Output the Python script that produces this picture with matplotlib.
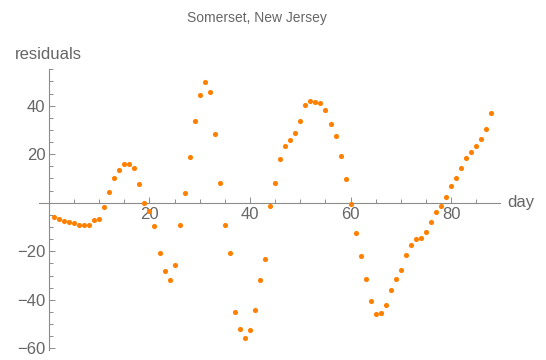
import numpy as np
import matplotlib
matplotlib.use("Agg")
import matplotlib.pyplot as plt

# residuals, one per day
days = np.arange(1, 89)
residuals = [
    -5.8, -6.9, -7.4, -8.0, -8.5, -9.3, -9.3, -9.3, -7.1, -6.7,
    -1.6, 4.5, 10.3, 13.5, 15.9, 15.8, 14.4, 7.6, -0.3, -3.3,
    -9.6, -20.6, -28.3, -31.8, -25.6, -9.1, 4.1, 18.8, 33.8, 44.4,
    49.8, 45.5, 28.5, 8.2, -9.1, -20.6, -45.2, -52.1, -55.7, -52.6,
    -44.4, -31.9, -23.2, -1.2, 8.2, 18.0, 23.4, 25.8, 28.9, 33.5,
    40.1, 42.1, 41.5, 41.2, 38.2, 32.3, 27.6, 19.2, 9.6, -0.5,
    -12.6, -22.1, -31.3, -40.4, -45.9, -45.6, -42.1, -36.0, -31.6, -27.9,
    -21.6, -17.5, -15.0, -14.4, -12.2, -8.0, -3.8, -1.2, 2.5, 6.7,
    10.4, 14.3, 18.4, 20.9, 23.2, 26.1, 30.2, 37.1,
]
x_major = [20, 40, 60, 80]
y_major = [-60, -40, -20, 20, 40]

TEXT = "#666666"
AXIS = "#8c8c8c"
ORANGE = "#ff8000"

plt.rcParams["font.family"] = ["Liberation Sans", "DejaVu Sans"]

fig = plt.figure(figsize=(5.46, 3.6), dpi=100)
ax = fig.add_axes([0.072, 0.0278, 0.8438, 0.7797])

ax.plot(days, residuals, "o", color=ORANGE, markersize=3.7,
        markeredgewidth=0, clip_on=False, zorder=3)

ax.set_xlim(-1.9, 89.7)
ax.set_ylim(-60.7, 55.0)

# axes crossing at the origin, Mathematica style
for side in ("top", "right"):
    ax.spines[side].set_visible(False)
ax.spines["left"].set_position(("data", 0))
ax.spines["bottom"].set_position(("data", 0))
for side in ("left", "bottom"):
    ax.spines[side].set_color(AXIS)
    ax.spines[side].set_linewidth(0.8)

ax.set_xticks(x_major)
ax.set_yticks(y_major)
ax.set_xticks([v for v in range(5, 90, 5) if v % 20], minor=True)
ax.set_yticks([v for v in range(-55, 60, 5) if v % 20], minor=True)
ax.tick_params(which="both", direction="in", color=AXIS, width=0.7,
               labelcolor=TEXT, labelsize=12)
ax.tick_params(which="major", length=4.3)
ax.tick_params(which="minor", length=2.8)
ax.tick_params(axis="y", pad=2.6)
ax.tick_params(axis="x", pad=2.8)

fig.text(0.4713, 0.9397, "Somerset, New Jersey", ha="center",
         va="baseline", fontsize=10, color=TEXT)
fig.text(0.0275, 0.835, "residuals", ha="left", va="baseline",
         fontsize=12, color=TEXT)
fig.text(0.929, 1 - 206.7 / 360, "day", ha="left", va="baseline",
         fontsize=12, color=TEXT)

fig.savefig("out.png", dpi=100)
